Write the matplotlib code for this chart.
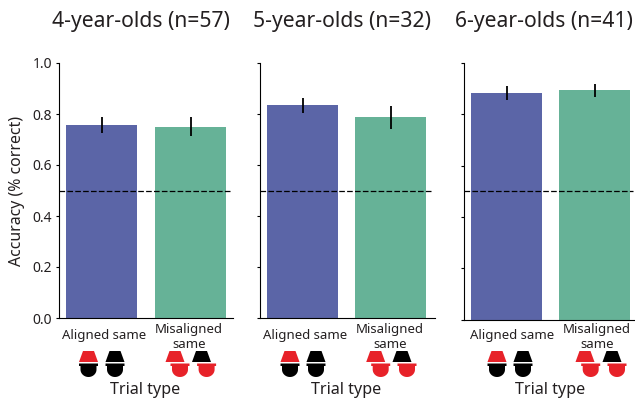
import numpy as np
import matplotlib
matplotlib.use("Agg")
import matplotlib.pyplot as plt
from matplotlib.patches import Polygon
from matplotlib.transforms import Affine2D

plt.rcParams["font.family"] = ["Noto Sans", "DejaVu Sans"]

W, H = 635, 399

titles = ["4-year-olds (n=57)", "5-year-olds (n=32)", "6-year-olds (n=41)"]
categories = ["Aligned same", "Misaligned\nsame"]
accuracy = [[0.757, 0.749], [0.835, 0.788], [0.883, 0.895]]
err_low = [[0.725, 0.714], [0.804, 0.741], [0.855, 0.867]]
err_high = [[0.788, 0.788], [0.863, 0.831], [0.910, 0.918]]
yticks = [0.0, 0.2, 0.4, 0.6, 0.8, 1.0]
chance = 0.5

BLUE = "#5b65a7"
GREEN = "#66b297"
RED = "#e72229"
BLACK = "#000000"
TEXT = "#231f20"

fig = plt.figure(figsize=(W / 100, H / 100), dpi=100)
px = Affine2D().scale(1 / W, -1 / H).translate(0, 1) + fig.transFigure

# pixel layout of each panel: spine x, right end, first bar centre, bar spacing, top, bottom
panels = [
    (58.5, 233, 101.5, 89, 63, 318),
    (259.5, 435, 302.5, 88, 63, 318),
    (463.5, 635, 506.5, 88, 63, 319.5),
]
# pixel centres of the text under each panel: title, aligned, misaligned, trial type
text_x = [
    (141, 104.5, 189, 145.5),
    (342, 305, 390, 346),
    (543.5, 512, 597, 550),
]
# icon centres: aligned pair, misaligned tops, misaligned bottoms
icons = [
    ((88.5, 115), (175, 201.5), (180, 206.6)),
    ((290, 316), (375.7, 402), (380.7, 407)),
    ((497, 523), (585, 612), (590.7, 617)),
]


def draw_top(cx, color):
    pts = [(cx - 5.5, 351), (cx + 5.5, 351), (cx + 9.5, 362), (cx - 9.5, 362)]
    fig.add_artist(Polygon(pts, closed=True, fc=color, ec="none", transform=px))


def draw_bottom(cx, color):
    t = np.linspace(0, np.pi, 30)
    pts = [(cx - 9.5, 363.5), (cx + 9.5, 363.5), (cx + 9.5, 366), (cx + 8, 366), (cx + 8, 369.5)]
    pts += [(cx + 8 * np.cos(a), 369.5 + 7.5 * np.sin(a)) for a in t]
    pts += [(cx - 8, 366), (cx - 9.5, 366)]
    fig.add_artist(Polygon(pts, closed=True, fc=color, ec="none", transform=px))


for i, (left, right, c0, step, top, bottom) in enumerate(panels):
    ax = fig.add_axes([left / W, 1 - bottom / H, (right - left) / W, (bottom - top) / H])
    x0 = (left - c0) / step
    x1 = (right - c0) / step
    ax.set_xlim(x0, x1)
    ax.set_ylim(0, 1)

    ax.bar([0, 1], accuracy[i], width=71 / step, color=[BLUE, GREEN], zorder=2)
    for j in range(2):
        ax.plot([j, j], [err_low[i][j], err_high[i][j]], color="black", lw=1.3,
                solid_capstyle="butt", zorder=3)
    ax.plot([x0, (right - 2 - c0) / step], [chance, chance], color="black", lw=0.9,
            dashes=(4.5, 1.8), zorder=4)

    for s in ["top", "right"]:
        ax.spines[s].set_visible(False)
    ax.spines["left"].set_linewidth(0.8)
    ax.spines["bottom"].set_linewidth(0.8)
    ax.set_xticks([])
    ax.set_yticks(yticks)
    ax.tick_params(axis="y", length=2.5, width=0.8, colors="black", labelcolor=TEXT,
                   labelsize=10, pad=2)
    if i == 0:
        ax.set_yticklabels([f"{v:.1f}" for v in yticks])
        fig.text(17 / W, 1 - 191 / H, "Accuracy (% correct)", rotation=90, ha="center",
                 va="center", fontsize=11.4, color=TEXT)
    else:
        ax.set_yticklabels([])

    tx = text_x[i]
    fig.text(tx[0] / W, 1 - 21 / H, titles[i], ha="center", va="center", fontsize=15.2,
             color=TEXT)
    fig.text(tx[1] / W, 1 - 335 / H, categories[0], ha="center", va="center", fontsize=9.5,
             color=TEXT)
    fig.text(tx[2] / W, 1 - 337 / H, categories[1], ha="center", va="center", fontsize=9.5,
             color=TEXT, linespacing=1.1)
    fig.text(tx[3] / W, 1 - 389.5 / H, "Trial type", ha="center", va="center", fontsize=11.6,
             color=TEXT)

    pair, tops, bottoms = icons[i]
    draw_top(pair[0], RED)
    draw_bottom(pair[0], BLACK)
    draw_top(pair[1], BLACK)
    draw_bottom(pair[1], BLACK)
    draw_top(tops[0], RED)
    draw_top(tops[1], BLACK)
    draw_bottom(bottoms[0], RED)
    draw_bottom(bottoms[1], RED)

fig.savefig("out.png", dpi=100)
